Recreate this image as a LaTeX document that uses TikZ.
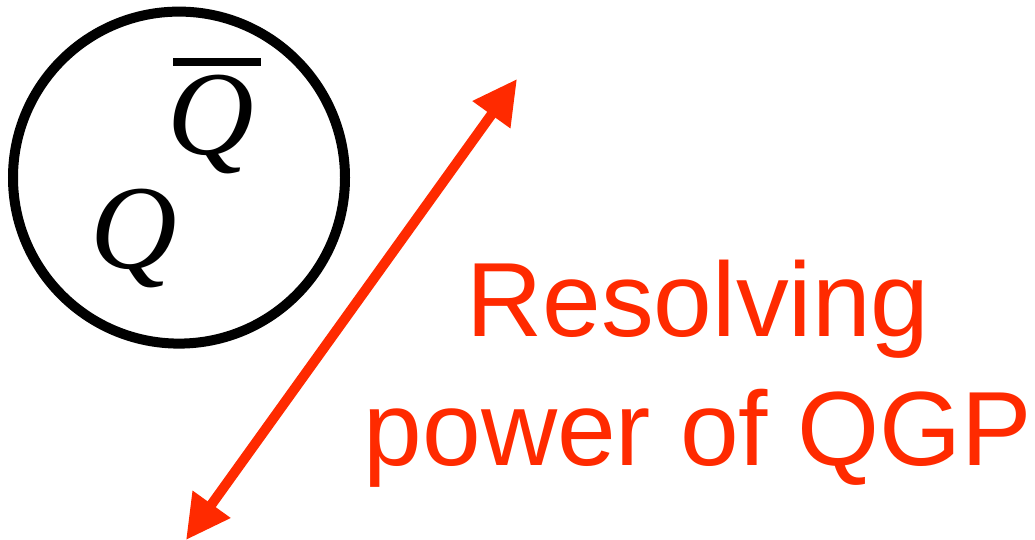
\documentclass[tikz,border=0pt]{standalone}
\usepackage{fontspec}
\setmainfont{Liberation Serif}
\setsansfont{Liberation Sans}
\usepackage{tikz}
\usetikzlibrary{arrows.meta}
\definecolor{rescol}{HTML}{FF2A00}
\newcommand{\barQ}{\rlap{\hspace{5.5pt}\raisebox{89pt}{\rule{88pt}{7.5pt}}}Q}

\begin{document}
\begin{tikzpicture}[
  x=1pt, y=-1pt,
  pairnode/.style={draw, circle, line width=10pt, minimum size=332pt, inner sep=0pt},
  quarknode/.style={font=\itshape\fontsize{120}{124}\selectfont, inner sep=0pt, anchor=base west},
  resarr/.style={{Triangle[length=44pt,width=44pt]}-{Triangle[length=44pt,width=44pt]},
                 line width=10pt, rescol},
  restext/.style={font=\sffamily\fontsize{105.5}{128}\selectfont, text=rescol,
                  inner sep=0pt, anchor=base},
]
\useasboundingbox (0,0) rectangle (1035,540);

\node[pairnode]  (pair) at (179,177.6) {};
\node[quarknode] (Q)    at (90,268)    {Q};
\node[quarknode] (Qbar) at (167,155)   {\barQ};

\coordinate (arrlow)  at (186,540);
\coordinate (arrhigh) at (517,79);
\draw[resarr] (arrlow) -- (arrhigh);

\node[restext] (resolve) at (698,336.7) {Resolving};
\node[restext] (power)   at (698,465)   {power of QGP};

\end{tikzpicture}
\end{document}
